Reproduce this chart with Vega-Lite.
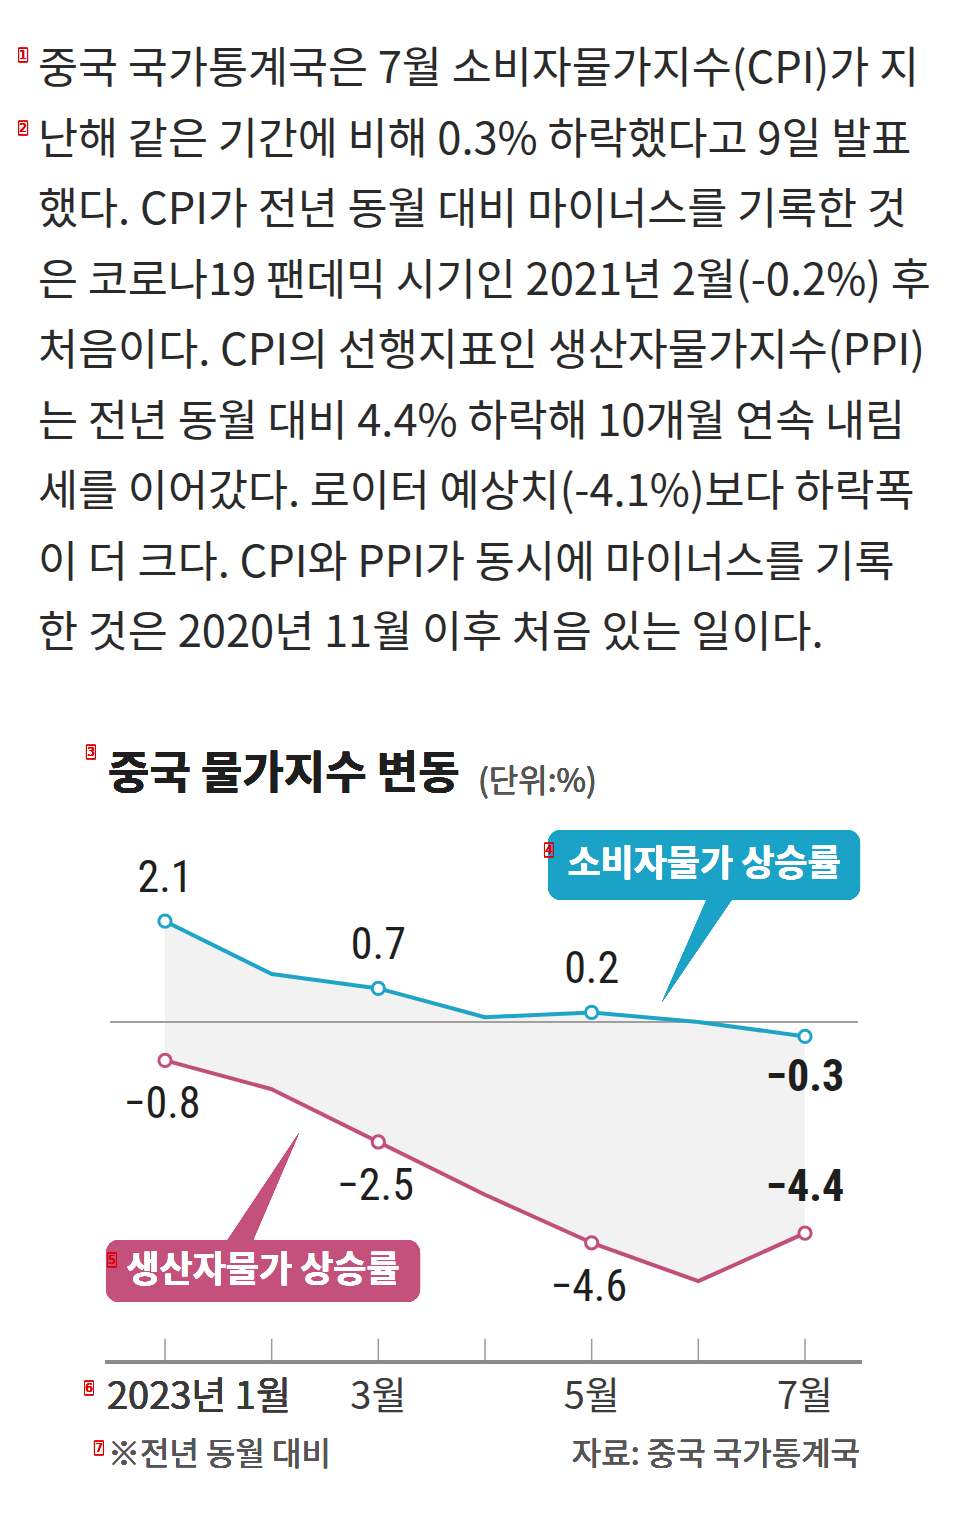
{
  "$schema": "https://vega.github.io/schema/vega-lite/v6.json",
  "width": 970,
  "height": 1515,
  "autosize": {"type": "fit", "contains": "padding"},
  "padding": 0,
  "background": "white",
  "config": {"view": {"stroke": null}, "text": {"font": "Noto Sans CJK KR"}},
  "datasets": {
    "series": [
      {"month": 1, "cpi": 2.1, "ppi": -0.8},
      {"month": 2, "cpi": 1.0, "ppi": -1.4},
      {"month": 3, "cpi": 0.7, "ppi": -2.5},
      {"month": 4, "cpi": 0.1, "ppi": -3.6},
      {"month": 5, "cpi": 0.2, "ppi": -4.6},
      {"month": 6, "cpi": 0.0, "ppi": -5.4},
      {"month": 7, "cpi": -0.3, "ppi": -4.4}
    ],
    "para": [
      {"line": 1, "text": "중국 국가통계국은 7월 소비자물가지수(CPI)가 지"},
      {"line": 2, "text": "난해 같은 기간에 비해 0.3% 하락했다고 9일 발표"},
      {"line": 3, "text": "했다. CPI가 전년 동월 대비 마이너스를 기록한 것"},
      {"line": 4, "text": "은 코로나19 팬데믹 시기인 2021년 2월(-0.2%) 후"},
      {"line": 5, "text": "처음이다. CPI의 선행지표인 생산자물가지수(PPI)"},
      {"line": 6, "text": "는 전년 동월 대비 4.4% 하락해 10개월 연속 내림"},
      {"line": 7, "text": "세를 이어갔다. 로이터 예상치(-4.1%)보다 하락폭"},
      {"line": 8, "text": "이 더 크다. CPI와 PPI가 동시에 마이너스를 기록"},
      {"line": 9, "text": "한 것은 2020년 11월 이후 처음 있는 일이다."}
    ],
    "xlab": [
      {"month": 3, "label": "3월"},
      {"month": 5, "label": "5월"},
      {"month": 7, "label": "7월"}
    ]
  },
  "resolve": {"scale": {"y": "independent"}},
  "layer": [
    {
      "data": {"name": "para"},
      "mark": {"type": "text", "align": "left", "baseline": "middle", "fontSize": 43.5, "color": "#2a2a2a"},
      "encoding": {
        "x": {"datum": -0.19, "scale": {"type": "linear", "domain": [-0.547, 8.547], "nice": false, "zero": false}, "axis": null},
        "y": {"field": "line", "type": "quantitative", "scale": {"domain": [0.00709, 21.496], "reverse": true, "nice": false, "zero": false}, "axis": null},
        "text": {"field": "text"}
      }
    },
    {
      "data": {"name": "series"},
      "layer": [
        {
          "mark": {"type": "area", "color": "#f2f2f3", "opacity": 1},
          "encoding": {
            "x": {"field": "month", "type": "quantitative", "scale": {"type": "linear", "domain": [-0.547, 8.547], "nice": false, "zero": false}, "axis": null},
            "y": {"field": "cpi", "type": "quantitative", "scale": {"domain": [-10.271, 21.292], "nice": false, "zero": false}, "axis": null},
            "y2": {"field": "ppi"}
          }
        },
        {
          "mark": {"type": "rule", "color": "#a0a0a0", "strokeWidth": 1.5},
          "encoding": {"x": {"datum": 0.484}, "x2": {"datum": 7.497}, "y": {"datum": 0}}
        },
        {
          "mark": {"type": "rule", "color": "#8a8a8a", "strokeWidth": 3},
          "encoding": {"x": {"datum": 0.4375}, "x2": {"datum": 7.534}, "y": {"datum": -7.083}}
        },
        {
          "mark": {"type": "rule", "color": "#9a9a9a", "strokeWidth": 1.5},
          "encoding": {"x": {"field": "month", "type": "quantitative"}, "y": {"datum": -6.6}, "y2": {"datum": -7.06}}
        },
        {
          "mark": {"type": "line", "color": "#1fa4c8", "strokeWidth": 4, "strokeJoin": "round"},
          "encoding": {"x": {"field": "month", "type": "quantitative"}, "y": {"field": "cpi", "type": "quantitative"}}
        },
        {
          "mark": {"type": "line", "color": "#c24f7b", "strokeWidth": 4, "strokeJoin": "round"},
          "encoding": {"x": {"field": "month", "type": "quantitative"}, "y": {"field": "ppi", "type": "quantitative"}}
        },
        {
          "transform": [{"filter": "datum.month % 2 == 1"}],
          "mark": {"type": "point", "filled": true, "fill": "white", "stroke": "#1fa4c8", "strokeWidth": 3, "size": 150, "opacity": 1},
          "encoding": {"x": {"field": "month", "type": "quantitative"}, "y": {"field": "cpi", "type": "quantitative"}}
        },
        {
          "transform": [{"filter": "datum.month % 2 == 1"}],
          "mark": {"type": "point", "filled": true, "fill": "white", "stroke": "#c24f7b", "strokeWidth": 3, "size": 150, "opacity": 1},
          "encoding": {"x": {"field": "month", "type": "quantitative"}, "y": {"field": "ppi", "type": "quantitative"}}
        },
        {
          "transform": [{"filter": "datum.month == 1 || datum.month == 3 || datum.month == 5"}],
          "mark": {"type": "text", "font": "Roboto Condensed, DejaVu Sans Condensed, Roboto, sans-serif", "fontSize": 44, "dy": -42, "baseline": "middle", "color": "#1e1e1e"},
          "encoding": {"x": {"field": "month", "type": "quantitative"}, "y": {"field": "cpi", "type": "quantitative"}, "text": {"field": "cpi", "type": "quantitative", "format": ".1f"}}
        },
        {
          "transform": [{"filter": "datum.month == 7"}],
          "mark": {"type": "text", "font": "Roboto Condensed, DejaVu Sans Condensed, Roboto, sans-serif", "fontSize": 44, "fontWeight": "bold", "dy": 42, "baseline": "middle", "color": "#1e1e1e"},
          "encoding": {"x": {"field": "month", "type": "quantitative"}, "y": {"field": "cpi", "type": "quantitative"}, "text": {"field": "cpi", "type": "quantitative", "format": ".1f"}}
        },
        {
          "transform": [{"filter": "datum.month == 1 || datum.month == 3 || datum.month == 5"}],
          "mark": {"type": "text", "font": "Roboto Condensed, DejaVu Sans Condensed, Roboto, sans-serif", "fontSize": 44, "dy": 45, "dx": -3, "baseline": "middle", "color": "#1e1e1e"},
          "encoding": {"x": {"field": "month", "type": "quantitative"}, "y": {"field": "ppi", "type": "quantitative"}, "text": {"field": "ppi", "type": "quantitative", "format": ".1f"}}
        },
        {
          "transform": [{"filter": "datum.month == 7"}],
          "mark": {"type": "text", "font": "Roboto Condensed, DejaVu Sans Condensed, Roboto, sans-serif", "fontSize": 44, "fontWeight": "bold", "dy": -45, "baseline": "middle", "color": "#1e1e1e"},
          "encoding": {"x": {"field": "month", "type": "quantitative"}, "y": {"field": "ppi", "type": "quantitative"}, "text": {"field": "ppi", "type": "quantitative", "format": ".1f"}}
        },
        {
          "mark": {"type": "point", "shape": "M0.1,-0.58L0.37,-0.58L-0.38,0.52Z", "size": 40000, "filled": true, "color": "#1ba3c7", "opacity": 1, "strokeWidth": 0},
          "encoding": {"x": {"datum": 6.0156}, "y": {"datum": 1.5}}
        },
        {
          "mark": {"type": "rect", "color": "#1ba3c7", "cornerRadius": 13},
          "encoding": {"x": {"datum": 4.591}, "x2": {"datum": 7.516}, "y": {"datum": 4.0}, "y2": {"datum": 2.542}}
        },
        {
          "mark": {"type": "text", "color": "white", "fontSize": 36, "fontWeight": "bold", "baseline": "middle", "align": "center"},
          "encoding": {"x": {"datum": 6.053}, "y": {"datum": 3.271}, "text": {"datum": "소비자물가 상승률"}}
        },
        {
          "mark": {"type": "point", "shape": "M-0.37,0.57L-0.1,0.57L0.39,-0.57Z", "size": 40000, "filled": true, "color": "#c4507c", "opacity": 1, "strokeWidth": 0},
          "encoding": {"x": {"datum": 1.8906}, "y": {"datum": -3.5}}
        },
        {
          "mark": {"type": "rect", "color": "#c4507c", "cornerRadius": 13},
          "encoding": {"x": {"datum": 0.447}, "x2": {"datum": 3.391}, "y": {"datum": -4.542}, "y2": {"datum": -5.833}}
        },
        {
          "mark": {"type": "text", "color": "white", "fontSize": 36, "fontWeight": "bold", "baseline": "middle", "align": "center"},
          "encoding": {"x": {"datum": 1.919}, "y": {"datum": -5.1875}, "text": {"datum": "생산자물가 상승률"}}
        },
        {
          "mark": {"type": "text", "color": "#1e1e1e", "fontSize": 45, "fontWeight": "bold", "baseline": "middle", "align": "left"},
          "encoding": {"x": {"datum": 0.4656}, "y": {"datum": 5.146}, "text": {"datum": "중국 물가지수 변동"}}
        },
        {
          "mark": {"type": "text", "color": "#555", "fontSize": 32, "baseline": "middle", "align": "left"},
          "encoding": {"x": {"datum": 3.934}, "y": {"datum": 5.0}, "text": {"datum": "(단위:%)"}}
        },
        {
          "mark": {"type": "text", "color": "#3a3a3a", "fontSize": 38, "baseline": "middle", "align": "left"},
          "encoding": {"x": {"datum": 0.456}, "y": {"datum": -7.833}, "text": {"datum": "2023년 1월"}}
        },
        {
          "data": {"name": "xlab"},
          "mark": {"type": "text", "color": "#3a3a3a", "fontSize": 38, "baseline": "middle", "align": "center"},
          "encoding": {"x": {"field": "month", "type": "quantitative"}, "y": {"datum": -7.833}, "text": {"field": "label"}}
        },
        {
          "mark": {"type": "text", "color": "#555", "fontSize": 32, "baseline": "middle", "align": "left"},
          "encoding": {"x": {"datum": 0.4656}, "y": {"datum": -9.02}, "text": {"datum": "※전년 동월 대비"}}
        },
        {
          "mark": {"type": "text", "color": "#555", "fontSize": 32, "baseline": "middle", "align": "right"},
          "encoding": {"x": {"datum": 7.516}, "y": {"datum": -9.02}, "text": {"datum": "자료: 중국 국가통계국"}}
        },
        {
          "layer": [
            {"mark": {"type": "point", "shape": "M-0.5,-0.75L0.5,-0.75L0.5,0.75L-0.5,0.75Z", "size": 324, "filled": false, "stroke": "#e00000", "strokeWidth": 1, "opacity": 1}},
            {"mark": {"type": "text", "color": "#e00000", "fontSize": 12, "font": "DejaVu Sans", "baseline": "middle"}, "encoding": {"text": {"datum": "1"}}}
          ],
          "encoding": {"x": {"datum": -0.331}, "y": {"datum": 20.146}}
        },
        {
          "layer": [
            {"mark": {"type": "point", "shape": "M-0.5,-0.75L0.5,-0.75L0.5,0.75L-0.5,0.75Z", "size": 324, "filled": false, "stroke": "#e00000", "strokeWidth": 1, "opacity": 1}},
            {"mark": {"type": "text", "color": "#e00000", "fontSize": 12, "font": "DejaVu Sans", "baseline": "middle"}, "encoding": {"text": {"datum": "2"}}}
          ],
          "encoding": {"x": {"datum": -0.331}, "y": {"datum": 18.625}}
        },
        {
          "layer": [
            {"mark": {"type": "point", "shape": "M-0.5,-0.75L0.5,-0.75L0.5,0.75L-0.5,0.75Z", "size": 324, "filled": false, "stroke": "#e00000", "strokeWidth": 1, "opacity": 1}},
            {"mark": {"type": "text", "color": "#e00000", "fontSize": 12, "font": "DejaVu Sans", "baseline": "middle"}, "encoding": {"text": {"datum": "3"}}}
          ],
          "encoding": {"x": {"datum": 0.306}, "y": {"datum": 5.625}}
        },
        {
          "layer": [
            {"mark": {"type": "point", "shape": "M-0.5,-0.75L0.5,-0.75L0.5,0.75L-0.5,0.75Z", "size": 324, "filled": false, "stroke": "#e00000", "strokeWidth": 1, "opacity": 1}},
            {"mark": {"type": "text", "color": "#e00000", "fontSize": 12, "font": "DejaVu Sans", "baseline": "middle"}, "encoding": {"text": {"datum": "4"}}}
          ],
          "encoding": {"x": {"datum": 4.6}, "y": {"datum": 3.583}}
        },
        {
          "layer": [
            {"mark": {"type": "point", "shape": "M-0.5,-0.75L0.5,-0.75L0.5,0.75L-0.5,0.75Z", "size": 324, "filled": false, "stroke": "#e00000", "strokeWidth": 1, "opacity": 1}},
            {"mark": {"type": "text", "color": "#e00000", "fontSize": 12, "font": "DejaVu Sans", "baseline": "middle"}, "encoding": {"text": {"datum": "5"}}}
          ],
          "encoding": {"x": {"datum": 0.503}, "y": {"datum": -4.958}}
        },
        {
          "layer": [
            {"mark": {"type": "point", "shape": "M-0.5,-0.75L0.5,-0.75L0.5,0.75L-0.5,0.75Z", "size": 324, "filled": false, "stroke": "#e00000", "strokeWidth": 1, "opacity": 1}},
            {"mark": {"type": "text", "color": "#e00000", "fontSize": 12, "font": "DejaVu Sans", "baseline": "middle"}, "encoding": {"text": {"datum": "6"}}}
          ],
          "encoding": {"x": {"datum": 0.2875}, "y": {"datum": -7.625}}
        },
        {
          "layer": [
            {"mark": {"type": "point", "shape": "M-0.5,-0.75L0.5,-0.75L0.5,0.75L-0.5,0.75Z", "size": 324, "filled": false, "stroke": "#e00000", "strokeWidth": 1, "opacity": 1}},
            {"mark": {"type": "text", "color": "#e00000", "fontSize": 12, "font": "DejaVu Sans", "baseline": "middle"}, "encoding": {"text": {"datum": "7"}}}
          ],
          "encoding": {"x": {"datum": 0.381}, "y": {"datum": -8.875}}
        }
      ]
    }
  ]
}
